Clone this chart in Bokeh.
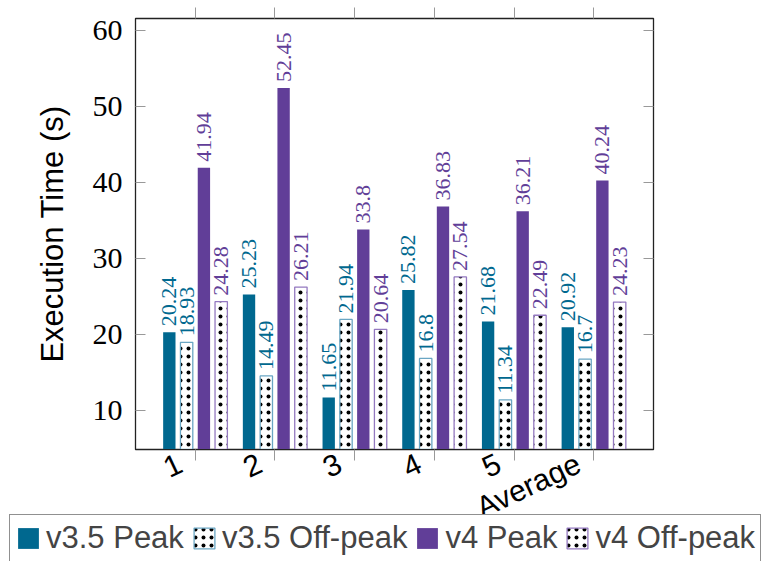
import math
from bokeh.plotting import figure
from bokeh.models import (ColumnDataSource, Range1d, LinearAxis, FixedTicker,
                          Legend, LegendItem)
from bokeh.embed import file_html
from bokeh.resources import INLINE

categories = ["1", "2", "3", "4", "5", "Average"]
v35_peak = [20.24, 25.23, 11.65, 25.82, 21.68, 20.92]
v35_offpeak = [18.93, 14.49, 21.94, 16.8, 11.34, 16.7]
v4_peak = [41.94, 52.45, 33.8, 36.83, 36.21, 40.24]
v4_offpeak = [24.28, 26.21, 20.64, 27.54, 22.49, 24.23]
y_ticks = [10, 20, 30, 40, 50, 60]
series_names = ["v3.5 Peak", "v3.5 Off-peak", "v4 Peak", "v4 Off-peak"]

TEAL = "#00688F"
PURPLE = "#613E98"
TEAL_LIGHT = "#6AA6C4"
PURPLE_LIGHT = "#9479C0"

pos = list(range(1, len(categories) + 1))
step = 0.217
bar_w = 0.155

p = figure(width=774, height=561, output_backend="svg", toolbar_location=None,
           x_range=Range1d(0.25, 6.75), y_range=Range1d(4.8, 61.6),
           min_border_left=135, min_border_right=121, min_border_top=18,
           min_border_bottom=112)
p.xgrid.visible = False
p.ygrid.visible = False
p.outline_line_color = "#222222"
p.outline_line_width = 1.3

series = [
    (v35_peak, TEAL, None, TEAL, " "),
    (v35_offpeak, "white", TEAL_LIGHT, TEAL, "."),
    (v4_peak, PURPLE, None, PURPLE, " "),
    (v4_offpeak, "white", PURPLE_LIGHT, PURPLE, "."),
]


def bar_style(fill, line, hatch):
    return dict(fill_color=fill, line_color=line if line else fill,
                line_width=1.3 if line else 0, hatch_pattern=hatch,
                hatch_color="black", hatch_scale=8, hatch_weight=1.5)


sources = []
for k, (vals, fill, line, lblc, hatch) in enumerate(series):
    off = (k - 1.5) * step
    xs = [c + off for c in pos]
    src = ColumnDataSource(dict(x=xs, top=vals, lbl=[f"{v:g}" for v in vals]))
    sources.append(src)
    p.vbar(x="x", top="top", bottom=0, width=bar_w, source=src,
           **bar_style(fill, line, hatch))
    p.text(x="x", y="top", text="lbl", source=src, angle=math.pi / 2,
           text_align="left", text_baseline="middle", y_offset=-6,
           text_color=lblc, text_font_size="22px",
           text_font="Liberation Serif")

# axes
p.xaxis.ticker = FixedTicker(ticks=pos)
p.xaxis.major_label_overrides = {i: c + "\u00a0\u00a0" for i, c in zip(pos, categories)}
p.xaxis.major_label_orientation = 0.44
p.xaxis.major_label_text_font = "Liberation Sans"
p.xaxis.major_label_text_font_size = "30px"
p.xaxis.major_label_text_color = "black"
p.xaxis.major_tick_in = 0
p.xaxis.major_tick_out = 11
p.xaxis.minor_tick_line_color = None
p.xaxis.major_tick_line_color = "#999999"
p.xaxis.axis_line_color = "#222222"
p.xaxis.major_label_standoff = -6

p.yaxis.ticker = FixedTicker(ticks=y_ticks)
p.yaxis.major_label_text_font = "Liberation Serif"
p.yaxis.major_label_text_font_size = "30px"
p.yaxis.major_label_text_color = "black"
p.yaxis.major_tick_in = 10
p.yaxis.major_tick_out = 0
p.yaxis.minor_tick_line_color = None
p.yaxis.major_tick_line_color = "#999999"
p.yaxis.axis_line_color = "#222222"
p.yaxis.major_label_standoff = 13
p.yaxis.axis_label = "Execution Time (s)"
p.yaxis.axis_label_text_font = "Liberation Sans"
p.yaxis.axis_label_text_font_style = "normal"
p.yaxis.axis_label_text_font_size = "31px"
p.yaxis.axis_label_text_color = "black"
p.yaxis.axis_label_standoff = 20

top_ax = LinearAxis(ticker=FixedTicker(ticks=pos), major_label_text_font_size="5px",
                    major_label_text_color=None, major_label_standoff=0,
                    major_tick_in=0, major_tick_out=11, minor_tick_line_color=None,
                    major_tick_line_color="#999999", axis_line_color="#222222")
p.add_layout(top_ax, "above")
right_ax = LinearAxis(ticker=FixedTicker(ticks=y_ticks), major_label_text_font_size="5px",
                      major_label_text_color=None,
                      major_tick_in=10, major_tick_out=0, minor_tick_line_color=None,
                      major_tick_line_color="#999999", axis_line_color="#222222")
p.add_layout(right_ax, "right")

# legend strip; it overlaps the bottom of the chart, like the original
lf = figure(width=774, height=47, output_backend="svg", toolbar_location=None,
            x_axis_location=None, y_axis_location=None, min_border=0,
            x_range=Range1d(0.25, 6.75), y_range=Range1d(-2, -1),
            outline_line_color=None, margin=(-47, 0, 0, 0))
lf.xgrid.visible = False
lf.ygrid.visible = False
leg_renderers = []
for src, (vals, fill, line, lblc, hatch) in zip(sources, series):
    leg_renderers.append(lf.vbar(x="x", top="top", bottom=0, width=bar_w, source=src,
                                 **bar_style(fill, line, hatch)))

legend = Legend(items=[LegendItem(label=n, renderers=[r]) for n, r in zip(series_names, leg_renderers)],
                orientation="horizontal", location=(9, -1),
                label_text_font="Liberation Sans", label_text_font_size="31px",
                glyph_width=26, glyph_height=26, label_standoff=5, spacing=7,
                padding=5, margin=0, border_line_color="#222222", border_line_width=1.3,
                background_fill_alpha=1)
lf.add_layout(legend, "center")

open("out.html", "w").write(file_html([p, lf], INLINE))
